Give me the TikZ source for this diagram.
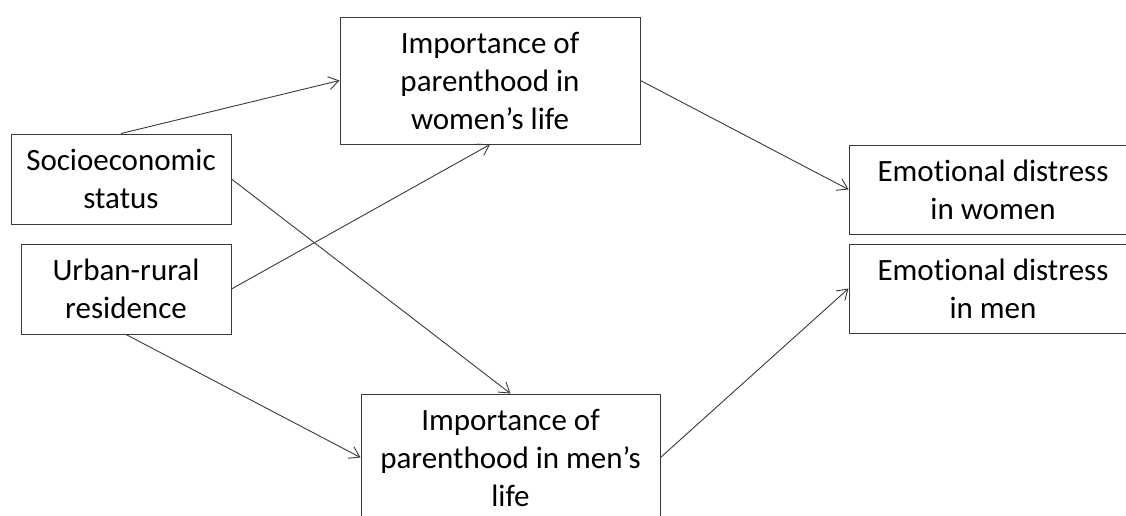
\documentclass[tikz,border=0pt]{standalone}
\usepackage{fontspec}
\setmainfont{Carlito}[Ligatures={NoCommon}]
\usetikzlibrary{arrows.meta}
\definecolor{linecol}{HTML}{3A3A3A}
\tikzset{
  box/.style={draw=linecol, line width=1pt, fill=white, inner sep=0pt, align=center,
    font=\fontsize{31}{38}\selectfont, text=black},
  link/.style={draw=linecol, line width=0.9pt, -{Straight Barb[length=10pt,width=13pt,line width=0.9pt]}}
}
\begin{document}
\begin{tikzpicture}[x=1pt,y=-1pt]
\useasboundingbox (0,0) rectangle (1126,515);
\fill[white] (0,0) rectangle (1126,515);
\clip (0,0) rectangle (1126,515);
\node[box, minimum width=220pt, minimum height=90pt] (ses) at (121,179) {Socioeconomic\\status};
\node[box, minimum width=210pt, minimum height=90pt] (urb) at (126,289) {Urban-rural\\residence};
\node[box, minimum width=300pt, minimum height=127pt] (W) at (490,80.5) {Importance of\\parenthood in\\women’s life};
\node[box, minimum width=299pt, minimum height=127pt] (M) at (510.5,457.5) {Importance of\\parenthood in men’s\\life};
\node[box, minimum width=288pt, minimum height=89pt] (EW) at (993,189.5) {Emotional distress\\in women};
\node[box, minimum width=288pt, minimum height=89pt] (EM) at (993,288.5) {Emotional distress\\in men};
\draw[link] (ses.north) -- (W.west);
\draw[link] (ses.east) -- (M.north);
\draw[link] (urb.east) -- (W.south);
\draw[link] (urb.south) -- (M.west);
\draw[link] (W.east) -- (EW.west);
\draw[link] (M.east) -- (EM.west);
\end{tikzpicture}
\end{document}
